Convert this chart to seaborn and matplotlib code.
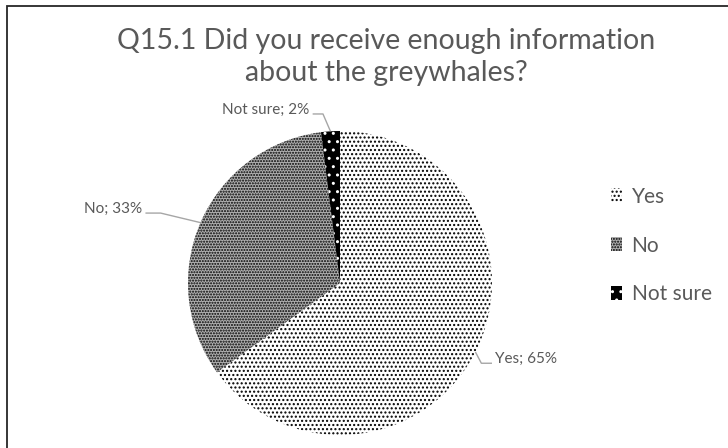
import matplotlib
matplotlib.use("Agg")
import matplotlib.pyplot as plt
from matplotlib.patches import Rectangle
import numpy as np
import seaborn as sns

# Survey answers (share of respondents, %)
categories = ["Yes", "No", "Not sure"]
shares = [65, 33, 2]
title_text = "Q15.1 Did you receive enough information\nabout the greywhales?"

sns.set_theme(style="white")
plt.rcParams["font.family"] = ["Lato", "DejaVu Sans"]
plt.rcParams["hatch.linewidth"] = 1.0

text_grey = "#595959"
leader_grey = "#A6A6A6"

# Pattern fills: face colour, hatch colour, hatch pattern
face_colors = ["white", "#b0b0b0", "black"]
hatch_colors = ["black", "black", "white"]
hatches = ["....", "......", ".."]

fig = plt.figure(figsize=(7.28, 4.48), dpi=100)
W, H = 728, 448

# Chart-area border (only the top and left edges fall inside the image)
fig.add_artist(Rectangle((6.5 / W, -0.1), 1.2, 1 - 6.5 / H + 0.1,
                         transform=fig.transFigure, fill=False,
                         edgecolor="#262626", linewidth=1.3))

cx, cy, r = 340, 283, 152
ax = fig.add_axes([(cx - r) / W, (H - cy - r) / H, 2 * r / W, 2 * r / H])
wedges, _ = ax.pie(shares, startangle=90, counterclock=False, radius=1,
                   wedgeprops=dict(linewidth=0))
for w, fc, hc, ht in zip(wedges, face_colors, hatch_colors, hatches):
    w.set_facecolor(fc)
    w.set_edgecolor(hc)
    w.set_linewidth(0)
    w.set_hatch(ht)
ax.set_xlim(-1, 1)
ax.set_ylim(-1, 1)
ax.set_aspect("auto")
ax.axis("off")

# Data labels with leader lines to the middle of each slice
total = float(sum(shares))
cum = np.cumsum([0] + shares)
label_pos = {  # text anchor (data units), alignment, elbow point
    "Yes": ((1.02, -0.50), "left", (0.93, -0.528)),
    "No": ((-1.30, 0.49), "right", (-1.18, 0.46)),
    "Not sure": ((-0.20, 1.14), "right", (-0.112, 1.112)),
}
for cat, val, start in zip(categories, shares, cum[:-1]):
    mid = (start + val / 2) / total * 2 * np.pi
    px, py = np.sin(mid), np.cos(mid)
    (tx, ty), ha, (ex, ey) = label_pos[cat]
    ax.text(tx, ty, f"{cat}; {val}%", ha=ha, va="center", fontsize=11,
            color=text_grey, clip_on=False)
    sx = tx - 0.02 if ha == "left" else tx + 0.02
    ax.plot([sx, ex, px], [ey, ey, py], color=leader_grey, lw=1.0,
            clip_on=False, solid_capstyle="butt")

fig.text(386 / W, 1 - 57 / H, title_text, ha="center", va="center",
         fontsize=20.5, color=text_grey, linespacing=1.3)

leg = fig.legend(wedges, categories, loc="upper left",
                 bbox_to_anchor=(592 / W, 1 - 168 / H), frameon=False,
                 fontsize=15, labelcolor=text_grey, handlelength=0.55,
                 handleheight=0.65, handletextpad=0.45, labelspacing=1.38)

fig.savefig("out.png", dpi=100)
